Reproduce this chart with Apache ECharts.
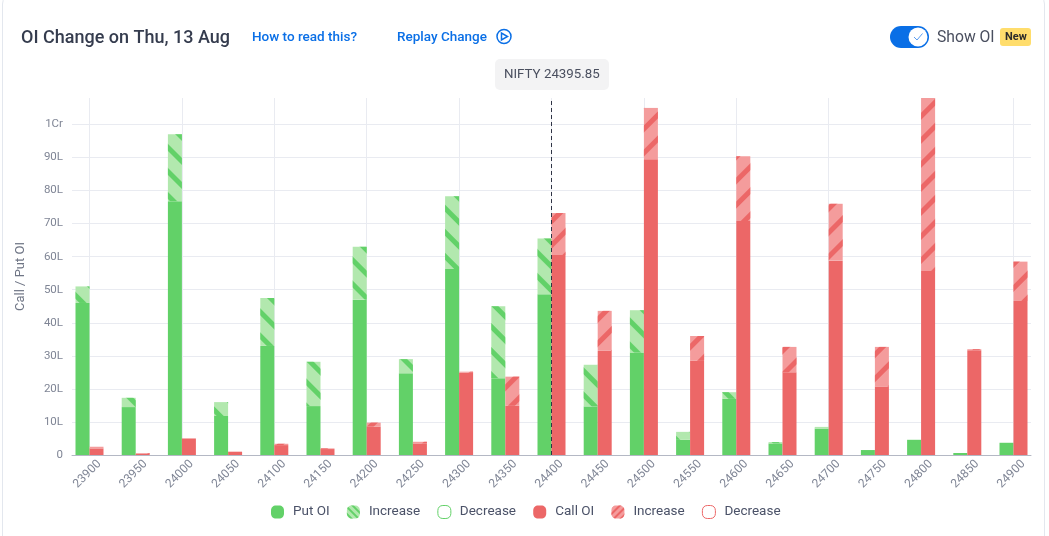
<!DOCTYPE html>
<html><head><meta charset="utf-8">
<style>
html,body{margin:0;padding:0;background:#fff;overflow:hidden}
#card{position:absolute;left:2px;top:-6px;width:1041px;height:560px;border:1px solid #e3e7ee;border-radius:10px}
#c{position:absolute;left:0;top:0;width:1049px;height:536px}
</style></head><body><div id="card"></div><div id="c"></div>
<script src="https://cdn.jsdelivr.net/npm/echarts@6/dist/echarts.min.js"></script>
<script>
const strikes=['23900','23950','24000','24050','24100','24150','24200','24250','24300','24350','24400','24450','24500','24550','24600','24650','24700','24750','24800','24850','24900'];
// values in lakh
const putBase=[46,14.5,76.8,11.8,33,14.8,47,24.7,56.3,23.2,48.6,14.7,31,4.6,17,3.5,8,1.5,4.6,0.6,3.7];
const putIncrease=[5,2.8,20.2,4.2,14.5,13.4,16,4.3,22,21.8,16.9,12.6,12.8,2.4,2,0.4,0.5,0,0,0,0];
const callBase=[2,0.4,5,1,3,1.8,8.6,3.5,24.9,14.9,60.5,31.5,89.5,28.5,70.8,25,58.8,20.7,55.7,31.7,46.6];
const callIncrease=[0.5,0.2,0,0,0.4,0.2,1.2,0.5,0.3,8.8,12.7,12.1,15.5,7.5,19.6,7.7,17.2,12,52.3,0.3,11.9];
const putDecrease=[];
const callDecrease=[];
const spotStrike='24400';
const spotLabel='NIFTY 24395.85';
const FONT='Roboto';
const GREEN='#62d168',GREEN_L='#b2e8ae',RED='#ec6767',RED_L='#f49c9c';
const ICON='path://M5 0H8C11 0 13 2 13 5V8C13 11 11 13 8 13H5C2 13 0 11 0 8V5C0 2 2 0 5 0Z';
const chart=echarts.init(document.getElementById('c'),null,{renderer:'canvas'});
function decal(color,rot,on,off){return {symbol:'rect',symbolSize:1,dashArrayX:[1,0],dashArrayY:[on||5,off||12],rotation:rot,color:color};}
const base=(name,stack,data,style)=>({name,type:'bar',stack,data,barWidth:14,barGap:0,clip:false,xAxisIndex:0,yAxisIndex:0,itemStyle:style,emphasis:{disabled:true},animation:false});
chart.setOption({
 animation:false,
 grid:[{left:89.5,width:924,top:98,height:357},{left:72,width:959,top:98,height:357}],
 xAxis:[
  {type:'category',gridIndex:0,data:strikes,boundaryGap:false,
   axisLine:{show:false},axisTick:{show:false},
   axisLabel:{interval:0,rotate:45,align:'center',verticalAlign:'middle',padding:[0,6,0,0],fontFamily:FONT,fontSize:12,color:'#7f8595',margin:17},
   splitLine:{show:true,interval:1,lineStyle:{color:'#e9ebf1',width:1}}},
  {type:'value',gridIndex:1,min:0,max:1,axisLabel:{show:false},axisTick:{show:false},splitLine:{show:false},
   axisLine:{show:true,onZero:false,lineStyle:{color:'#b4b8c4',width:1}}}
 ],
 yAxis:[
  {type:'value',gridIndex:0,min:0,max:108,interval:10,show:false,splitLine:{show:false}},
  {type:'value',gridIndex:1,min:0,max:108,interval:10,name:'Call / Put OI',nameLocation:'middle',nameGap:45,nameRotate:90,
   nameTextStyle:{fontFamily:FONT,fontSize:13,color:'#6f7585'},
   axisLine:{show:false},axisTick:{show:false},
   axisLabel:{fontFamily:FONT,fontSize:11.5,color:'#7f8595',margin:9,padding:[2,0,0,0],showMaxLabel:false,
     formatter:v=>v===0?'0':(v>=100?(v/100)+'Cr':v+'L')},
   splitLine:{show:true,showMaxLine:false,showMinLine:false,lineStyle:{color:'#e9ebf1',width:1}}}
 ],
 legend:{left:266,top:500,itemWidth:13,itemHeight:13,itemGap:17.2,icon:ICON,selectedMode:false,
  textStyle:{fontFamily:FONT,fontSize:13.5,color:'#4b5268',padding:[0,0,0,4]},
  formatter:n=>n.replace(/^(Put|Call) (Increase|Decrease)$/,'$2'),
  data:['Put OI',{name:'Put Increase',itemStyle:{decal:decal(GREEN,Math.PI/4,2,3)}},{name:'Put Decrease',itemStyle:{borderWidth:1}},'Call OI',{name:'Call Increase',itemStyle:{decal:decal(RED,-Math.PI/4,2,3)}},{name:'Call Decrease',itemStyle:{borderWidth:1}}]},
 series:[
  base('Put OI','put',putBase,{color:GREEN}),
  base('Put Increase','put',putIncrease,{color:GREEN_L,decal:decal(GREEN,Math.PI/4)}),
  base('Put Decrease','put',putDecrease,{color:'#fff',borderColor:GREEN,borderWidth:1}),
  base('Call OI','call',callBase,{color:RED}),
  base('Call Increase','call',callIncrease,{color:RED_L,decal:decal(RED,-Math.PI/4)}),
  base('Call Decrease','call',callDecrease,{color:'#fff',borderColor:RED,borderWidth:1}),
  {name:'Spot',type:'line',data:[],xAxisIndex:0,yAxisIndex:0,z:5,
    markLine:{silent:true,symbol:'none',animation:false,label:{show:false},
      lineStyle:{color:'#2f3445',type:[4,3],width:1},
      data:[[{xAxis:spotStrike,yAxis:0},{xAxis:spotStrike,yAxis:108}]]}}
 ],
 graphic:[
  {type:'text',left:21,top:29,style:{text:'OI Change on Thu, 13 Aug',font:'500 18px Roboto',fill:'#353c4e'}},
  {type:'text',left:252,top:31,style:{text:'How to read this?',font:'500 13.5px Roboto',fill:'#0a6fe6'}},
  {type:'text',left:397,top:31,style:{text:'Replay Change',font:'500 13.5px Roboto',fill:'#0a6fe6'}},
  {type:'circle',shape:{cx:504,cy:36.5,r:7},style:{fill:'none',stroke:'#0a6fe6',lineWidth:1.5}},
  {type:'polygon',shape:{points:[[501.5,33],[501.5,40],[507.5,36.5]]},style:{fill:'none',stroke:'#0a6fe6',lineWidth:1.5}},
  {type:'rect',shape:{x:495,y:59,width:114,height:31,r:5},style:{fill:'#f3f3f4'}},
  {type:'text',left:504,top:68,style:{text:spotLabel,font:'13.3px Roboto',fill:'#4a4f5f'}},
  {type:'rect',shape:{x:890,y:26,width:39,height:22,r:11},style:{fill:'#0a6fe6'}},
  {type:'circle',shape:{cx:918,cy:37,r:9.5},style:{fill:'#fff'}},
  {type:'polyline',shape:{points:[[914,37],[917,40],[922.5,33.5]]},style:{fill:'none',stroke:'#5a9cf0',lineWidth:1}},
  {type:'text',left:937,top:30,style:{text:'Show OI',font:'15.7px Roboto',fill:'#4a4f5f'}},
  {type:'rect',shape:{x:1000,y:28,width:31,height:18,r:3},style:{fill:'#ffdd6c'}},
  {type:'text',left:1005,top:32,style:{text:'New',font:'700 11px Roboto',fill:'#2b2b2b'}}
 ]
});
</script></body></html>
